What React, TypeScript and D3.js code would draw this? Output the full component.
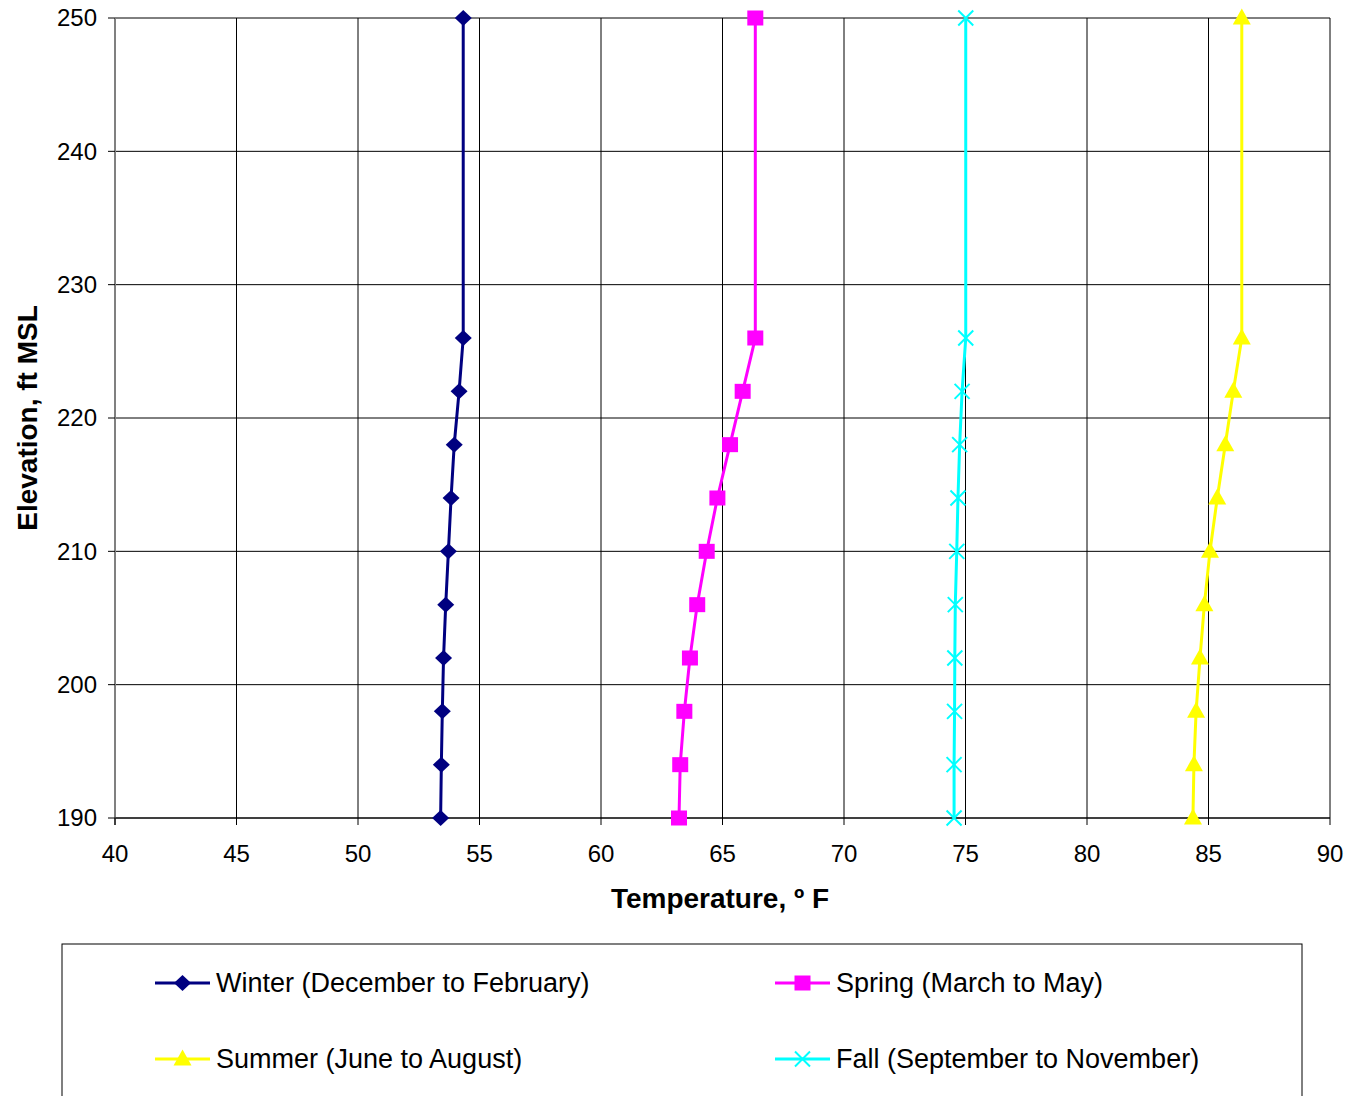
import React from "react";
import * as d3 from "d3";

const elevations = [190, 194, 198, 202, 206, 210, 214, 218, 222, 226, 250];
const winter = [53.4, 53.43, 53.47, 53.52, 53.61, 53.72, 53.83, 53.96, 54.16, 54.33, 54.33];
const spring = [63.21, 63.26, 63.43, 63.66, 63.96, 64.35, 64.79, 65.31, 65.83, 66.35, 66.35];
const summer = [84.36, 84.4, 84.49, 84.65, 84.83, 85.06, 85.36, 85.69, 86.02, 86.37, 86.37];
const fall = [74.53, 74.53, 74.55, 74.56, 74.58, 74.64, 74.69, 74.76, 74.86, 75.01, 75.01];
const xTicks = [40, 45, 50, 55, 60, 65, 70, 75, 80, 85, 90];
const yTicks = [190, 200, 210, 220, 230, 240, 250];

const seriesList = [
  { name: "Winter (December to February)", values: winter, color: "#000080", marker: "diamond" },
  { name: "Spring (March to May)", values: spring, color: "#FF00FF", marker: "square" },
  { name: "Summer (June to August)", values: summer, color: "#FFFF00", marker: "triangle" },
  { name: "Fall (September to November)", values: fall, color: "#00FFFF", marker: "x" },
];

const FONT = "'Liberation Sans', Arial, sans-serif";

function Marker({ type, x, y, color }: { type: string; x: number; y: number; color: string }) {
  if (type === "diamond") {
    return <path d={`M${x},${y - 8}L${x + 8.5},${y}L${x},${y + 8}L${x - 8.5},${y}Z`} fill={color} />;
  }
  if (type === "square") {
    return <rect x={x - 8} y={y - 7.5} width={16} height={15} fill={color} />;
  }
  if (type === "triangle") {
    return <path d={`M${x},${y - 9.5}L${x + 9},${y + 6.5}L${x - 9},${y + 6.5}Z`} fill={color} />;
  }
  return (
    <path
      d={`M${x - 7.5},${y - 7.5}L${x + 7.5},${y + 7.5}M${x - 7.5},${y + 7.5}L${x + 7.5},${y - 7.5}`}
      stroke={color}
      strokeWidth={2}
      fill="none"
    />
  );
}

export default function App() {
  const W = 1349;
  const H = 1096;
  const left = 115, right = 1330, top = 18, bottom = 818;
  const x = d3.scaleLinear().domain([40, 90]).range([left, right]);
  const y = d3.scaleLinear().domain([190, 250]).range([bottom, top]);
  const line = d3
    .line<[number, number]>()
    .x((d) => x(d[0]))
    .y((d) => y(d[1]));

  const legendItems = [
    { s: seriesList[0], lx: 155, ly: 983 },
    { s: seriesList[1], lx: 775, ly: 983 },
    { s: seriesList[2], lx: 155, ly: 1059 },
    { s: seriesList[3], lx: 775, ly: 1059 },
  ];

  return (
    <svg
      width={W}
      height={H}
      style={{ position: "absolute", left: 0, top: 0, background: "#fff" }}
      fontFamily={FONT}
    >
      <rect x={0} y={0} width={W} height={H} fill="#fff" />
      {xTicks.map((t) => (
        <line key={"gx" + t} x1={x(t)} x2={x(t)} y1={top} y2={bottom} stroke="#000" strokeWidth={1} />
      ))}
      {yTicks.map((t) => (
        <line key={"gy" + t} x1={left} x2={right} y1={y(t)} y2={y(t)} stroke="#000" strokeWidth={1} />
      ))}
      <line x1={left} x2={left} y1={top} y2={bottom + 7} stroke="#808080" strokeWidth={2} />
      <line x1={left} x2={right} y1={bottom} y2={bottom} stroke="#000" strokeWidth={1} />
      {yTicks.map((t) => (
        <g key={"ty" + t}>
          <line x1={left - 7} x2={left} y1={y(t)} y2={y(t)} stroke="#000" />
          <text x={97} y={y(t)} dy="0.35em" textAnchor="end" fontSize={24} fill="#000">
            {t}
          </text>
        </g>
      ))}
      {xTicks.map((t) => (
        <g key={"tx" + t}>
          <line x1={x(t)} x2={x(t)} y1={bottom} y2={bottom + 7} stroke="#000" />
          <text x={x(t)} y={862} textAnchor="middle" fontSize={24} fill="#000">
            {t}
          </text>
        </g>
      ))}
      <text x={720} y={908} textAnchor="middle" fontSize={28} fontWeight="bold" fill="#000">
        Temperature, º F
      </text>
      <text
        transform={`translate(37,418) rotate(-90)`}
        textAnchor="middle"
        fontSize={28}
        fontWeight="bold"
        fill="#000"
      >
        Elevation, ft MSL
      </text>
      {seriesList.map((s) => {
        const pts: [number, number][] = s.values.map((v, i) => [v, elevations[i]]);
        return (
          <g key={s.name}>
            <path d={line(pts) || ""} fill="none" stroke={s.color} strokeWidth={3} />
            {pts.map((p, i) => (
              <Marker key={i} type={s.marker} x={x(p[0])} y={y(p[1])} color={s.color} />
            ))}
          </g>
        );
      })}
      <rect x={62} y={944} width={1240} height={170} fill="none" stroke="#000" strokeWidth={1} />
      {legendItems.map(({ s, lx, ly }) => (
        <g key={"lg" + s.name}>
          <line x1={lx} x2={lx + 55} y1={ly} y2={ly} stroke={s.color} strokeWidth={3} />
          <Marker type={s.marker} x={lx + 27.5} y={ly} color={s.color} />
          <text x={lx + 61} y={ly} dy="0.35em" fontSize={27} fill="#000">
            {s.name}
          </text>
        </g>
      ))}
    </svg>
  );
}
